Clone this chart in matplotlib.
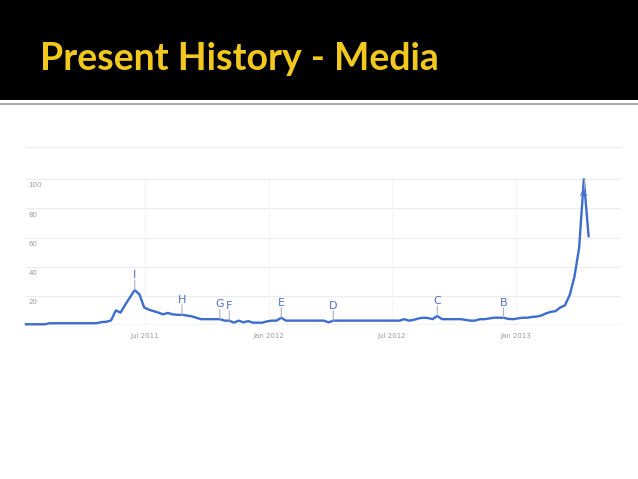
import pandas as pd
import matplotlib.pyplot as plt
from matplotlib.lines import Line2D

# weekly interest values
weeks = pd.date_range('2011-01-06', periods=120, freq='7D')
interest = [
    0.5, 0.5, 0.5, 0.5, 0.5, 1.2, 1.2, 1.2, 1.2, 1.2,
    1.2, 1.2, 1.2, 1.2, 1.2, 1.3, 2, 2.2, 3.2, 10,
    8.5, 14, 19, 24, 21, 12, 10.5, 9.5, 8.5, 7.3,
    8.3, 7.3, 7, 7, 6.5, 6, 5, 4, 4, 4,
    4, 4, 3, 3, 1.6, 3, 1.8, 2.7, 1.6, 1.6,
    1.6, 2.5, 3, 3, 5, 3, 3, 3, 3, 3,
    3, 3, 3, 3, 1.8, 3, 3, 3, 3, 3,
    3, 3, 3, 3, 3, 3, 3, 3, 3, 3,
    4, 3, 3.5, 4.5, 5, 4.8, 4, 6.2, 4, 4,
    4, 4, 4, 3.5, 3, 3, 4, 4, 4.5, 5,
    5, 5, 4.2, 4, 4.5, 5, 5, 5.5, 5.8, 6.5,
    8, 9, 9.5, 12, 13.5, 20.5, 33, 53, 100, 61,
]

# news headline flags: letter -> week index
flag_letters = ['I', 'H', 'G', 'F', 'E', 'D', 'C', 'B', 'A']
flag_weeks = [23, 33, 41, 43, 54, 65, 87, 101, 118]

y_ticks = [20, 40, 60, 80, 100]
x_ticks = ['2011-07-01', '2012-01-01', '2012-07-01', '2013-01-01']
x_ticklabels = ['Jul 2011', 'Jan 2012', 'Jul 2012', 'Jan 2013']

W, H = 638, 479
fig = plt.figure(figsize=(W / 100, H / 100), dpi=100)
fig.patch.set_facecolor('white')

# black header band with title
band = fig.add_axes([0, 1 - 100 / H, 1, 100 / H])
band.set_facecolor('black')
band.set_xticks([])
band.set_yticks([])
for s in band.spines.values():
    s.set_visible(False)
fig.text(40 / W, 1 - 70 / H, 'Present History - Media', color='#f2c81c',
         fontsize=27, fontfamily='Lato', fontweight='bold', va='baseline')
fig.add_artist(Line2D([0, 1], [1 - 104 / H, 1 - 104 / H], color='#aaaaaa', lw=1.5))
fig.add_artist(Line2D([26 / W, 621 / W], [1 - 147 / H, 1 - 147 / H], color='#eeeeee', lw=1))

# chart area
left, right, y0, ytop = 26, 621, 325, 175
ax = fig.add_axes([left / W, 1 - y0 / H, (right - left) / W, (y0 - ytop) / H])
ax.set_xlim(weeks[0], pd.Timestamp('2013-06-05'))
ax.set_ylim(0, 103)

for v in y_ticks:
    ax.axhline(v, color='#ececec', lw=0.8, zorder=0)
    ax.text(0.004, v - 4.2, str(v), transform=ax.get_yaxis_transform(),
            fontsize=5, color='#9a9a9a', va='center', ha='left')
ax.axhline(0, color='#c8c8c8', lw=1, zorder=1)
for d in x_ticks:
    ax.axvline(pd.Timestamp(d), color='#f5f5f5', lw=0.8, zorder=0)

ax.plot(weeks, interest, color='#3d6dcc', lw=1.7, zorder=3, clip_on=False)

for letter, i in zip(flag_letters, flag_weeks):
    x, y = weeks[i], interest[i]
    if letter == 'A':
        ax.plot([x, x], [y - 0.5, y - 7], color='#9aa6c0', lw=0.8, zorder=4)
        ax.text(x, y - 9.5, 'A', color='#5a78c8', fontsize=7.5,
                ha='center', va='center', zorder=5)
        continue
    ax.annotate('', xy=(x, y), xytext=(0, 10), textcoords='offset pixels',
                arrowprops=dict(arrowstyle='-', color='#aab0c0', lw=0.8,
                                shrinkA=0, shrinkB=0))
    ax.annotate(letter, xy=(x, y), xytext=(0, 15), textcoords='offset pixels',
                color='#4f70c8', fontsize=8, ha='center', va='center')

ax.set_xticks([pd.Timestamp(d) for d in x_ticks])
ax.set_xticklabels(x_ticklabels, fontsize=5, color='#9a9a9a')
ax.tick_params(axis='x', length=0, pad=6)
ax.set_yticks([])
for s in ax.spines.values():
    s.set_visible(False)
ax.set_facecolor('none')

fig.savefig('out.png', dpi=100, facecolor='white')
